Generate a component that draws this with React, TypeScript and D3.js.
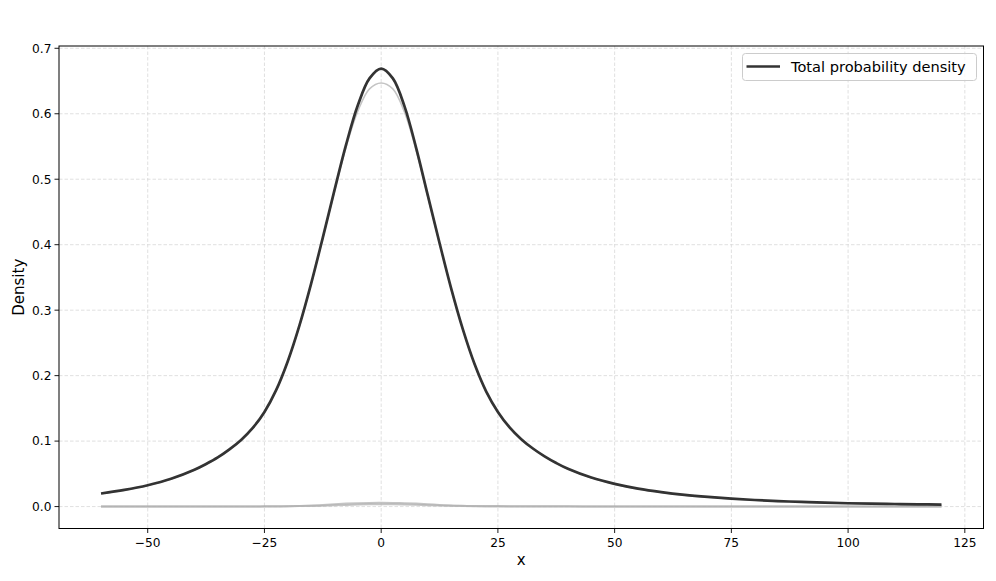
import React from "react";
import * as d3 from "d3";

// x positions where the curves were read
const xValues = [-60, -55, -50, -45, -40, -37.5, -35, -32.5, -30, -27.5, -25, -22.5, -20, -17.5, -15, -12.5, -10, -7.5, -5, -2.5, 0, 2.5, 5, 7.5, 10, 12.5, 15, 17.5, 20, 22.5, 25, 27.5, 30, 32.5, 35, 37.5, 40, 45, 50, 55, 60, 65, 70, 75, 80, 85, 90, 95, 100, 105, 110, 115, 120];

// Total probability density (dark line)
const totalDensity = [0.02, 0.0254, 0.0326, 0.0424, 0.0562, 0.065, 0.075, 0.0873, 0.1018, 0.1201, 0.1445, 0.1778, 0.2221, 0.2768, 0.3406, 0.4109, 0.4833, 0.5532, 0.6129, 0.654, 0.669, 0.654, 0.6113, 0.5476, 0.4749, 0.4026, 0.3329, 0.2706, 0.2177, 0.1757, 0.1446, 0.1211, 0.103, 0.0887, 0.0767, 0.0665, 0.0577, 0.0443, 0.0347, 0.0275, 0.0221, 0.0179, 0.0147, 0.0121, 0.01, 0.0084, 0.0071, 0.006, 0.0051, 0.0044, 0.0039, 0.0034, 0.003];

// Main component (light grey, mostly hidden under the total)
const mainComponent = [0.0195, 0.0249, 0.0321, 0.0419, 0.0557, 0.0645, 0.0745, 0.0868, 0.1013, 0.1196, 0.144, 0.1773, 0.2216, 0.2763, 0.3401, 0.4099, 0.4813, 0.5492, 0.6039, 0.638, 0.647, 0.638, 0.6023, 0.5436, 0.4729, 0.4016, 0.3324, 0.2701, 0.2172, 0.1752, 0.1441, 0.1206, 0.1025, 0.0882, 0.0762, 0.066, 0.0572, 0.0438, 0.0342, 0.027, 0.0216, 0.0174, 0.0142, 0.0116, 0.0095, 0.0079, 0.0066, 0.0055, 0.0046, 0.0039, 0.0034, 0.0029, 0.0025];

// Small components near zero
const smallComponentA = [0, 0, 0, 0, 0, 0, 0, 0, 0, 0, 0.0001, 0.0002, 0.0004, 0.0008, 0.0015, 0.0025, 0.0035, 0.0045, 0.0052, 0.0056, 0.0057, 0.0056, 0.0052, 0.0045, 0.0035, 0.0025, 0.0015, 0.0008, 0.0004, 0.0002, 0.0001, 0, 0, 0, 0, 0, 0, 0, 0, 0, 0, 0, 0, 0, 0, 0, 0, 0, 0, 0, 0, 0, 0];
const smallComponentB = [0, 0, 0, 0, 0.0001, 0.0001, 0.0001, 0.0002, 0.0002, 0.0002, 0.0003, 0.0004, 0.0005, 0.0007, 0.001, 0.0014, 0.0019, 0.0025, 0.003, 0.0034, 0.0036, 0.0036, 0.0033, 0.0028, 0.0022, 0.0017, 0.0013, 0.0011, 0.0009, 0.0008, 0.0007, 0.0006, 0.0005, 0.0005, 0.0004, 0.0004, 0.0003, 0.0002, 0.0002, 0.0001, 0.0001, 0.0001, 0, 0, 0, 0, 0, 0, 0, 0, 0, 0, 0];

const xTicks = [-50, -25, 0, 25, 50, 75, 100, 125];
const yTicks = [0.0, 0.1, 0.2, 0.3, 0.4, 0.5, 0.6, 0.7];

const legendLabel = "Total probability density";
const xLabel = "x";
const yLabel = "Density";

const W = 996;
const H = 581;
const M = { left: 59, right: 983.5, top: 46, bottom: 528.5 };
const FONT = "DejaVu Sans, Verdana, sans-serif";

export default function App() {
  const x = d3.scaleLinear().domain([-69, 129]).range([M.left, M.right]);
  const y = d3.scaleLinear().domain([-0.0335, 0.7035]).range([M.bottom, M.top]);

  const mk = (vals: number[]) =>
    d3
      .line<number>()
      .x((_, i) => x(xValues[i]))
      .y((v) => y(v))
      .curve(d3.curveCatmullRom.alpha(0.5))(vals) as string;

  const fmtX = (v: number) => (v < 0 ? "\u2212" + Math.abs(v) : String(v));
  const fmtY = (v: number) => v.toFixed(1);

  return (
    <svg width={W} height={H} style={{ position: "absolute", left: 0, top: 0, background: "#fff" }}>
      <rect x={0} y={0} width={W} height={H} fill="#fff" />
      {/* grid */}
      <g stroke="#d8d8d8" strokeWidth={0.8} strokeDasharray="3.5,2">
        {xTicks.map((t) => (
          <line key={"gx" + t} x1={x(t)} x2={x(t)} y1={M.top} y2={M.bottom} />
        ))}
        {yTicks.map((t) => (
          <line key={"gy" + t} x1={M.left} x2={M.right} y1={y(t)} y2={y(t)} />
        ))}
      </g>
      {/* components */}
      <path d={mk(smallComponentB)} fill="none" stroke="#b0b0b0" strokeWidth={2} strokeOpacity={0.75} />
      <path d={mk(smallComponentA)} fill="none" stroke="#b0b0b0" strokeWidth={2} strokeOpacity={0.75} />
      <path d={mk(mainComponent)} fill="none" stroke="#c4c4c4" strokeWidth={1.5} />
      <path d={mk(totalDensity)} fill="none" stroke="#333333" strokeWidth={2.7} strokeLinejoin="round" />
      {/* spines */}
      <rect x={M.left} y={M.top} width={M.right - M.left} height={M.bottom - M.top} fill="none" stroke="#000" strokeWidth={1} />
      {/* x ticks */}
      {xTicks.map((t) => (
        <g key={"xt" + t}>
          <line x1={x(t)} x2={x(t)} y1={M.bottom} y2={M.bottom + 4.5} stroke="#000" strokeWidth={0.9} />
          <text x={x(t)} y={M.bottom + 18} fontFamily={FONT} fontSize={12.2} textAnchor="middle" fill="#000">
            {fmtX(t)}
          </text>
        </g>
      ))}
      {/* y ticks */}
      {yTicks.map((t) => (
        <g key={"yt" + t}>
          <line x1={M.left - 4.5} x2={M.left} y1={y(t)} y2={y(t)} stroke="#000" strokeWidth={0.9} />
          <text x={M.left - 7.5} y={y(t)} dy="0.36em" fontFamily={FONT} fontSize={12.2} textAnchor="end" fill="#000">
            {fmtY(t)}
          </text>
        </g>
      ))}
      {/* axis labels */}
      <text x={(M.left + M.right) / 2} y={565} fontFamily={FONT} fontSize={15} textAnchor="middle" fill="#000">
        {xLabel}
      </text>
      <text transform={`translate(24,${(M.top + M.bottom) / 2}) rotate(-90)`} fontFamily={FONT} fontSize={15} textAnchor="middle" fill="#000">
        {yLabel}
      </text>
      {/* legend */}
      <g>
        <rect x={742.5} y={53.5} width={234} height={27} rx={3} fill="#fff" fillOpacity={0.8} stroke="#cccccc" strokeWidth={1} />
        <line x1={746.5} x2={780} y1={66.5} y2={66.5} stroke="#333333" strokeWidth={2.7} />
        <text x={791} y={71.5} fontFamily={FONT} fontSize={14.6} fill="#000">
          {legendLabel}
        </text>
      </g>
    </svg>
  );
}
